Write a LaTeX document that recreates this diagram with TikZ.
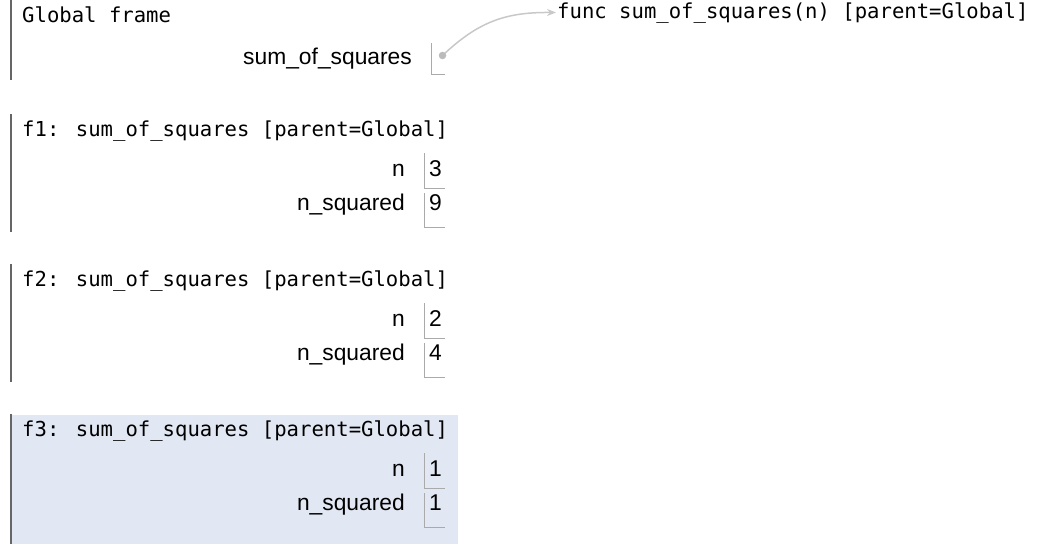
\documentclass[tikz,border=0pt]{standalone}
\usepackage{fontspec}
\setmainfont{Liberation Sans}
\newfontfamily\codefont{DejaVu Sans Mono}
\usetikzlibrary{arrows.meta}
\definecolor{barcol}{HTML}{666666}
\definecolor{slotcol}{HTML}{AAAAAA}
\definecolor{linkcol}{HTML}{C8C8C8}
\definecolor{dotcol}{HTML}{BBBBBB}
\definecolor{activebg}{HTML}{E2E8F3}

% one call frame: #1 header baseline, #2 id, #3 title, #4 n, #5 n_squared, #6 bar end
\newcommand\callframe[6]{%
  \begin{scope}[shift={(0,#1)}]
    \draw[framebar] (11,-22) -- (11,#6);
    \node[code] (#2-title) at (22,0) {#3};
    \node[varname] (#2-nname) at (405,40) {n};
    \node[varval] (#2-nval) at (429,40) {#4};
    \draw[slot] (424,17) -- (424,52) -- (445,52);
    \node[varname] (#2-sqname) at (405,74) {n\_squared};
    \node[varval] (#2-sqval) at (429,74) {#5};
    \draw[slot] (424,57) -- (424,91) -- (445,91);
  \end{scope}}

\begin{document}
\begin{tikzpicture}[x=1pt,y=-1pt,
  code/.style={font=\codefont\fontsize{20.6}{24}\selectfont, anchor=base west, inner sep=0pt},
  varname/.style={font=\fontsize{22.8}{26}\selectfont, anchor=base east, inner sep=0pt},
  varval/.style={font=\fontsize{22.8}{26}\selectfont, anchor=base west, inner sep=0pt},
  framebar/.style={draw=barcol, line width=2.8pt},
  slot/.style={draw=slotcol, line width=1pt},
  link/.style={draw=linkcol, line width=1.5pt, -{Stealth[length=9pt,width=7pt]}},
  pointer/.style={circle, fill=dotcol, inner sep=0pt, minimum size=7.5pt}]
\useasboundingbox (0,0) rectangle (1056,544);

% highlighted active frame
\fill[activebg] (10,415) rectangle (458,544);

% global frame
\draw[framebar] (11,0) -- (11,80);
\node[code] (gtitle) at (22,22) {Global frame};
\node[varname] (gname) at (412,64) {sum\_of\_squares};
\draw[slot] (431,43) -- (431,74) -- (445,74);

% function object and the pointer to it
\node[code] (func) at (557,18) {func sum\_of\_squares(n) [parent=Global]};
\coordinate (ptrpos) at (442.5,55.5);
\draw[link] (ptrpos) .. controls (478,22) and (505,12) .. ([xshift=-1pt]func.west);
\node[pointer] (ptr) at (ptrpos) {};

% call frames
\callframe{136}{f1}{f1: sum\_of\_squares [parent=Global]}{3}{9}{96}
\callframe{286}{f2}{f2: sum\_of\_squares [parent=Global]}{2}{4}{96}
\callframe{436}{f3}{f3: sum\_of\_squares [parent=Global]}{1}{1}{108}
\end{tikzpicture}
\end{document}
